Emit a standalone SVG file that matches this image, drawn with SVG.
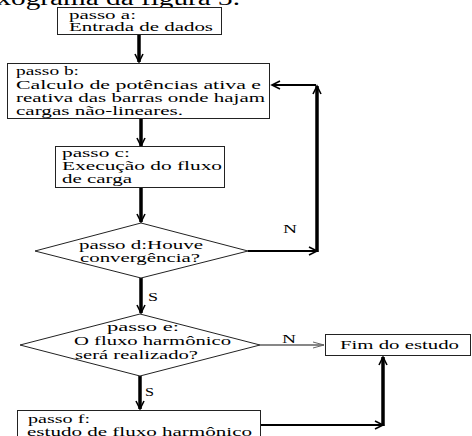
<svg xmlns="http://www.w3.org/2000/svg" width="472" height="436" viewBox="0 0 472 436">
<style>
text{font-family:"Liberation Serif","Times New Roman",serif;font-size:13px;fill:#000}
.box{fill:#fff;stroke:#222;stroke-width:1}
.thick{fill:none;stroke:#000;stroke-width:3.5}
.mid{fill:none;stroke:#000;stroke-width:2}
.thin{fill:none;stroke:#111;stroke-width:1.2}
</style>
<defs>
<marker id="ah" markerUnits="userSpaceOnUse" markerWidth="12" markerHeight="12" refX="9" refY="5" orient="auto">
<path d="M1,1 L9,5 L1,9" fill="none" stroke="#000" stroke-width="1.6"/>
</marker>
<marker id="ahg" markerUnits="userSpaceOnUse" markerWidth="14" markerHeight="12" refX="11" refY="5" orient="auto">
<path d="M0,2 L11,5 L0,8" fill="none" stroke="#666" stroke-width="1"/>
</marker>
</defs>
<rect width="472" height="436" fill="#fff"/>
<text x="-36" y="5" style="font-size:20px" textLength="276" lengthAdjust="spacingAndGlyphs">fluxograma da figura 3.</text>

<g id="connectors">
<line class="thick" x1="139" y1="34" x2="139" y2="62" marker-end="url(#ah)"/>
<line class="thick" x1="141" y1="119" x2="141" y2="146" marker-end="url(#ah)"/>
<line class="thick" x1="141" y1="188" x2="141" y2="222" marker-end="url(#ah)"/>
<line class="mid" x1="248" y1="251" x2="317" y2="251" marker-end="url(#ah)"/>
<line class="thick" x1="317" y1="252" x2="317" y2="86" marker-end="url(#ah)"/>
<line class="mid" x1="316" y1="85" x2="272" y2="85" marker-end="url(#ah)"/>
<line class="thick" x1="141" y1="278" x2="141" y2="313" marker-end="url(#ah)"/>
<line class="thin" x1="260" y1="345" x2="324" y2="345" marker-end="url(#ahg)"/>
<line class="thick" x1="140" y1="376" x2="140" y2="409" marker-end="url(#ah)"/>
<line class="mid" x1="260" y1="425" x2="383" y2="425" marker-end="url(#ah)"/>
<line class="thick" x1="383" y1="426" x2="383" y2="357" marker-end="url(#ah)"/>
<text x="283" y="233" textLength="14" lengthAdjust="spacingAndGlyphs">N</text>
<text x="282" y="343" textLength="14" lengthAdjust="spacingAndGlyphs">N</text>
<text x="148" y="301" textLength="10" lengthAdjust="spacingAndGlyphs">S</text>
<text x="145" y="396" textLength="9" lengthAdjust="spacingAndGlyphs">S</text>
</g>

<g id="passo-a">
<rect class="box" x="57.5" y="7.5" width="164" height="27"/>
<text x="69" y="19" textLength="67" lengthAdjust="spacingAndGlyphs">passo a:</text>
<text x="69" y="31" textLength="144" lengthAdjust="spacingAndGlyphs">Entrada de dados</text>
</g>

<g id="passo-b">
<rect class="box" x="7.5" y="63.5" width="262" height="55"/>
<text x="16" y="75" textLength="63" lengthAdjust="spacingAndGlyphs">passo b:</text>
<text x="16" y="89" textLength="245" lengthAdjust="spacingAndGlyphs">Calculo de potências ativa e</text>
<text x="16" y="102" textLength="249" lengthAdjust="spacingAndGlyphs">reativa das barras onde hajam</text>
<text x="16" y="115" textLength="167" lengthAdjust="spacingAndGlyphs">cargas não-lineares.</text>
</g>

<g id="passo-c">
<rect class="box" x="55.5" y="146.5" width="169" height="41"/>
<text x="62" y="157" textLength="68" lengthAdjust="spacingAndGlyphs">passo c:</text>
<text x="62" y="170" textLength="160" lengthAdjust="spacingAndGlyphs">Execução do fluxo</text>
<text x="62" y="183" textLength="70" lengthAdjust="spacingAndGlyphs">de carga</text>
</g>

<g id="passo-d">
<polygon class="box" points="141,223 248,251 141,278 35,251"/>
<text x="79" y="249" textLength="124" lengthAdjust="spacingAndGlyphs">passo d:Houve</text>
<text x="80" y="262" textLength="120" lengthAdjust="spacingAndGlyphs">convergência?</text>
</g>

<g id="passo-e">
<polygon class="box" points="140,314 260,345 140,376 20,345"/>
<text x="107" y="331" textLength="72" lengthAdjust="spacingAndGlyphs">passo e:</text>
<text x="74" y="345" textLength="157" lengthAdjust="spacingAndGlyphs">O fluxo harmônico</text>
<text x="75" y="359" textLength="123" lengthAdjust="spacingAndGlyphs">será realizado?</text>
</g>

<g id="fim">
<rect class="box" x="325.5" y="334.5" width="145" height="21"/>
<text x="340" y="349" textLength="119" lengthAdjust="spacingAndGlyphs">Fim do estudo</text>
</g>

<g id="passo-f">
<rect class="box" x="17.5" y="410.5" width="243" height="40"/>
<text x="28" y="423" textLength="62" lengthAdjust="spacingAndGlyphs">passo f:</text>
<text x="27" y="436" textLength="225" lengthAdjust="spacingAndGlyphs">estudo de fluxo harmônico</text>
</g>
</svg>
